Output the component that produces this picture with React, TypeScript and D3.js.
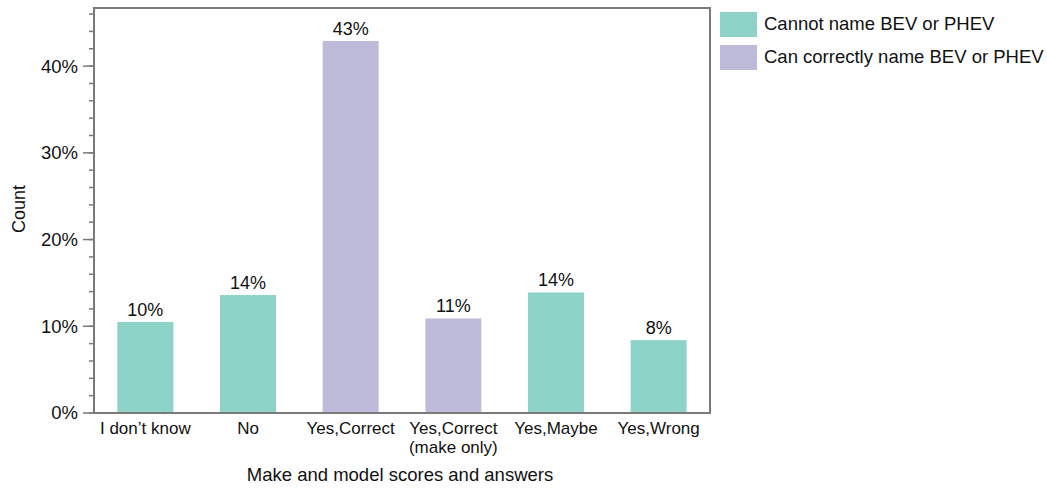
import React from "react";
import * as d3 from "d3";

const categories = ["I don’t know", "No", "Yes,Correct", "Yes,Correct\n(make only)", "Yes,Maybe", "Yes,Wrong"];
const values = [0.105, 0.136, 0.429, 0.109, 0.139, 0.084];
const labels = ["10%", "14%", "43%", "11%", "14%", "8%"];
const groups = ["Cannot name BEV or PHEV", "Cannot name BEV or PHEV", "Can correctly name BEV or PHEV", "Can correctly name BEV or PHEV", "Cannot name BEV or PHEV", "Cannot name BEV or PHEV"];
const seriesNames = ["Cannot name BEV or PHEV", "Can correctly name BEV or PHEV"];
const seriesColors = ["#8dd3c7", "#bebada"];
const majorTicks = [0, 0.1, 0.2, 0.3, 0.4];
const minorTicks = d3.range(0, 0.47, 0.02);

export default function App() {
  const W = 1047, H = 488;
  const left = 94, right = 710, top = 8, bottom = 413;
  const x = d3.scaleBand<string>().domain(categories).range([left, right]).paddingInner(0.455).paddingOuter(0.2275);
  const y = d3.scaleLinear().domain([0, 0.467]).range([bottom, top]);
  const color = d3.scaleOrdinal<string, string>().domain(seriesNames).range(seriesColors);
  const font = "Liberation Sans, Arial, sans-serif";
  const axisColor = "#7a7a7a";
  return (
    <svg width={W} height={H} style={{ position: "absolute", left: 0, top: 0 }} fontFamily={font}>
      {categories.map((c, i) => (
        <g key={c}>
          <rect x={x(c)} y={y(values[i])} width={x.bandwidth()} height={bottom - y(values[i])} fill={color(groups[i])} />
          <text x={x(c)! + x.bandwidth() / 2} y={y(values[i]) - 6} textAnchor="middle" fontSize={18} fill="#111">{labels[i]}</text>
          {c.split("\n").map((line, j) => (
            <text key={j} x={x(c)! + x.bandwidth() / 2} y={434 + j * 19} textAnchor="middle" fontSize={17} fill="#111">{line}</text>
          ))}
        </g>
      ))}
      <rect x={left} y={top} width={right - left} height={bottom - top} fill="none" stroke={axisColor} strokeWidth={2} />
      {minorTicks.map((t) => (
        <line key={"m" + t} x1={left - 5} x2={left} y1={y(t)} y2={y(t)} stroke={axisColor} strokeWidth={1.5} />
      ))}
      {majorTicks.map((t) => (
        <g key={t}>
          <line x1={left - 11} x2={left} y1={y(t)} y2={y(t)} stroke={axisColor} strokeWidth={1.5} />
          <text x={left - 16} y={y(t)} dy="0.35em" textAnchor="end" fontSize={18.5} fill="#111">{d3.format(".0%")(t)}</text>
        </g>
      ))}
      <text transform={`translate(25,209) rotate(-90)`} textAnchor="middle" fontSize={18} fill="#111">Count</text>
      <text x={400} y={481} textAnchor="middle" fontSize={18.5} fill="#111">Make and model scores and answers</text>
      {seriesNames.map((s, i) => (
        <g key={s}>
          <rect x={720} y={12 + i * 33} width={37} height={25} fill={color(s)} />
          <text x={764} y={24} dy="0.35em" transform={`translate(0,${i * 33})`} fontSize={18.5} fill="#111">{s}</text>
        </g>
      ))}
    </svg>
  );
}
